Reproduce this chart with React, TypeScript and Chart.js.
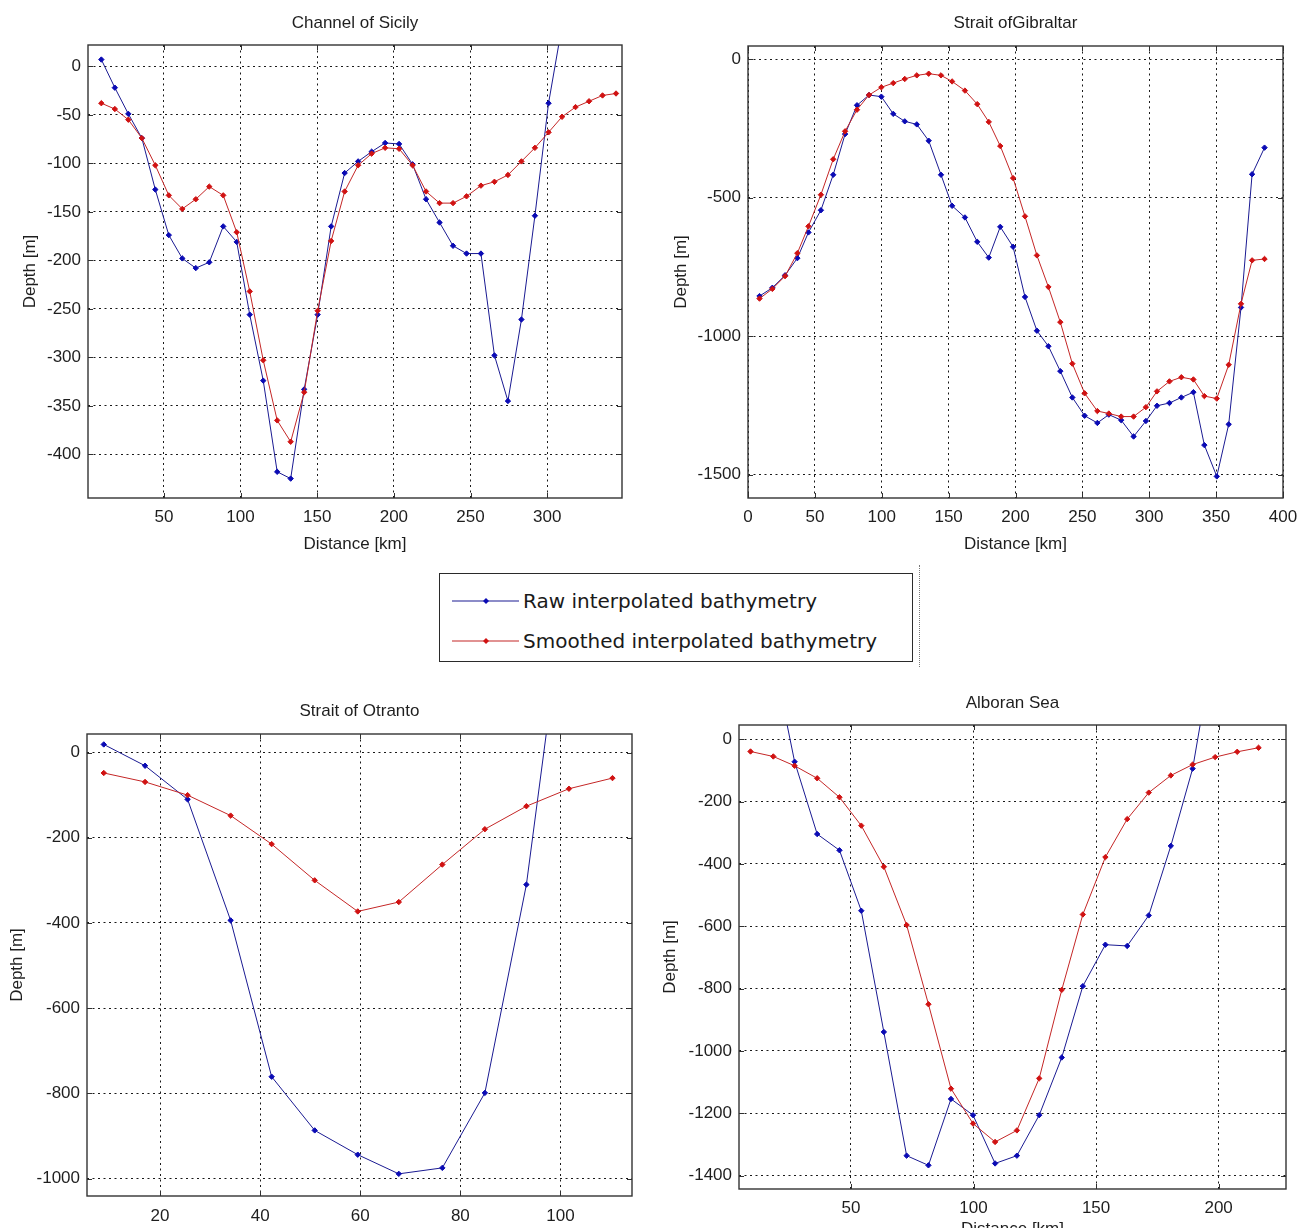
import React, { useEffect, useRef } from 'react';
import { Chart, registerables } from 'chart.js';

Chart.register(...registerables);

// ---------------- DATA ----------------
const seriesNames = ['Raw interpolated bathymetry', 'Smoothed interpolated bathymetry'];
const xAxisTitle = 'Distance [km]';
const yAxisTitle = 'Depth [m]';

// Channel of Sicily
const sicilyDistance = [9.2, 18.0, 26.8, 35.6, 44.4, 53.2, 62.0, 70.8, 79.6, 88.7, 97.5, 106.0, 114.8, 123.9, 132.7, 141.5, 150.3, 159.1, 167.9, 176.7, 185.5, 194.3, 203.4, 212.2, 221.0, 229.8, 238.6, 247.4, 256.8, 265.6, 274.4, 283.2, 292.0, 300.9, 309.7, 318.5, 327.3, 336.1, 344.9];
const sicilyRaw = [7, -22, -49, -74, -127, -174, -198, -208, -202, -165, -181, -256, -324, -418, -425, -333, -256, -165, -110, -98, -88, -79, -80, -101, -137, -161, -185, -193, -193, -298, -345, -261, -154, -38, 42];
const sicilySmoothed = [-38, -44, -55, -74, -102, -133, -147, -137, -124, -133, -171, -232, -303, -365, -387, -336, -252, -180, -129, -102, -90, -84, -85, -102, -129, -141, -141, -134, -123, -119, -112, -98, -84, -68, -52, -42, -36, -30, -28];
const sicilyXTicks = [50, 100, 150, 200, 250, 300];
const sicilyYTicks = [0, -50, -100, -150, -200, -250, -300, -350, -400];

// Strait of Gibraltar
const gibraltarDistance = [8.6, 18.2, 27.7, 36.9, 45.2, 54.5, 63.7, 72.6, 81.5, 90.5, 99.7, 108.6, 117.2, 126.2, 135.1, 144.3, 152.6, 162.2, 171.4, 180.0, 188.6, 198.2, 207.1, 216.0, 224.6, 233.5, 242.5, 251.7, 261.2, 269.8, 279.0, 288.3, 297.5, 305.8, 315.1, 324.0, 333.0, 341.2, 350.5, 359.4, 368.6, 376.9, 386.2];
const gibraltarRaw = [-855, -825, -780, -718, -625, -545, -417, -270, -166, -129, -135, -197, -224, -235, -294, -417, -529, -571, -659, -716, -605, -677, -858, -980, -1036, -1126, -1221, -1287, -1313, -1283, -1303, -1362, -1306, -1251, -1241, -1221, -1202, -1393, -1506, -1318, -896, -415, -319];
const gibraltarSmoothed = [-864, -829, -783, -700, -603, -489, -361, -260, -182, -129, -101, -86, -71, -58, -52, -58, -80, -113, -162, -226, -313, -429, -567, -708, -822, -949, -1099, -1206, -1270, -1279, -1290, -1290, -1256, -1199, -1163, -1148, -1156, -1216, -1225, -1103, -883, -726, -721];
const gibraltarXTicks = [0, 50, 100, 150, 200, 250, 300, 350, 400];
const gibraltarYTicks = [0, -500, -1000, -1500];

// Strait of Otranto
const otrantoDistance = [8.75, 17.0, 25.5, 34.1, 42.3, 50.9, 59.5, 67.7, 76.4, 84.9, 93.2, 101.7, 110.4];
const otrantoRaw = [19, -31, -110, -394, -761, -887, -944, -989, -975, -799, -310, 448];
const otrantoSmoothed = [-48, -69, -100, -148, -215, -300, -373, -351, -263, -180, -126, -85, -60];
const otrantoXTicks = [20, 40, 60, 80, 100];
const otrantoYTicks = [0, -200, -400, -600, -800, -1000];

// Alboran Sea
const alboranDistance = [9.0, 18.3, 27.0, 36.2, 45.3, 54.2, 63.4, 72.7, 81.6, 90.8, 99.8, 108.8, 117.7, 126.8, 136.0, 144.6, 153.8, 162.7, 171.5, 180.5, 189.4, 198.6, 207.6, 216.3];
const alboranRaw = [null, 264, -72, -304, -356, -550, -939, -1336, -1367, -1154, -1206, -1361, -1336, -1206, -1021, -792, -659, -663, -565, -342, -94, 327];
const alboranSmoothed = [-39, -55, -85, -125, -186, -277, -409, -596, -850, -1121, -1233, -1292, -1255, -1088, -804, -562, -378, -256, -171, -116, -81, -57, -40, -27];
const alboranXTicks = [50, 100, 150, 200];
const alboranYTicks = [0, -200, -400, -600, -800, -1000, -1200, -1400];

// ---------------- STYLE / LAYOUT ----------------
const TEXT_FONT = '"Liberation Sans", Arial, Helvetica, sans-serif';
const FONT_SIZE = 17;
const TEXT_COLOR = '#1e1e1e';
const RAW_LINE = '#1a1a92';
const RAW_MARK = '#0a0ab4';
const SMOOTH_LINE = '#c42626';
const SMOOTH_MARK = '#d01212';

type PanelCfg = {
  title: string;
  dist: number[];
  raw: (number | null)[];
  smooth: number[];
  xTicks: number[];
  yTicks: number[];
  xMin: number; xMax: number; yMin: number; yMax: number;
  left: number; top: number; w: number; h: number;
  area: { l: number; t: number; r: number; b: number };
  titleY: number; yTitleX: number; xTitleY: number; xTickPad: number;
};

const panels: PanelCfg[] = [
  {
    title: 'Channel of Sicily', dist: sicilyDistance, raw: sicilyRaw, smooth: sicilySmoothed,
    xTicks: sicilyXTicks, yTicks: sicilyYTicks, xMin: 0.5, xMax: 348.8, yMin: -445, yMax: 22,
    left: 0, top: 0, w: 653, h: 560, area: { l: 88, t: 45, r: 622, b: 498 },
    titleY: 23, yTitleX: 30, xTitleY: 544, xTickPad: 9,
  },
  {
    title: 'Strait ofGibraltar', dist: gibraltarDistance, raw: gibraltarRaw, smooth: gibraltarSmoothed,
    xTicks: gibraltarXTicks, yTicks: gibraltarYTicks, xMin: 0, xMax: 400, yMin: -1584, yMax: 48,
    left: 653, top: 0, w: 653, h: 560, area: { l: 748, t: 46, r: 1283, b: 498 },
    titleY: 23, yTitleX: 681, xTitleY: 544, xTickPad: 9,
  },
  {
    title: 'Strait of Otranto', dist: otrantoDistance, raw: otrantoRaw, smooth: otrantoSmoothed,
    xTicks: otrantoXTicks, yTicks: otrantoYTicks, xMin: 5.4, xMax: 114.3, yMin: -1041, yMax: 43.5,
    left: 0, top: 560, w: 653, h: 700, area: { l: 87, t: 734, r: 632, b: 1196 },
    titleY: 711, yTitleX: 17, xTitleY: 1242, xTickPad: 10,
  },
  {
    title: 'Alboran Sea', dist: alboranDistance, raw: alboranRaw, smooth: alboranSmoothed,
    xTicks: alboranXTicks, yTicks: alboranYTicks, xMin: 4.3, xMax: 227.5, yMin: -1443, yMax: 46,
    left: 653, top: 560, w: 653, h: 700, area: { l: 739, t: 725, r: 1286, b: 1189 },
    titleY: 703, yTitleX: 670, xTitleY: 1229, xTickPad: 9,
  },
];

const framePlugin = {
  id: 'matlabFrame',
  afterDatasetsDraw(chart: any) {
    const { ctx, chartArea: a, scales } = chart;
    ctx.save();
    ctx.strokeStyle = '#303030';
    ctx.lineWidth = 1;
    ctx.beginPath();
    const xs = scales.x;
    const ys = scales.y;
    for (const t of xs.ticks) {
      const p = Math.round(xs.getPixelForValue(t.value)) + 0.5;
      ctx.moveTo(p, a.bottom); ctx.lineTo(p, a.bottom - 5);
      ctx.moveTo(p, a.top); ctx.lineTo(p, a.top + 5);
    }
    for (const t of ys.ticks) {
      const p = Math.round(ys.getPixelForValue(t.value)) + 0.5;
      ctx.moveTo(a.left, p); ctx.lineTo(a.left + 5, p);
      ctx.moveTo(a.right, p); ctx.lineTo(a.right - 5, p);
    }
    ctx.stroke();
    ctx.lineWidth = 1.4;
    ctx.strokeStyle = '#333333';
    ctx.strokeRect(a.left, a.top, a.right - a.left, a.bottom - a.top);
    ctx.restore();
  },
};

function PanelChart({ cfg }: { cfg: PanelCfg }) {
  const ref = useRef<HTMLCanvasElement>(null);
  useEffect(() => {
    const canvas = ref.current;
    if (!canvas) return;
    const LH = FONT_SIZE * 1.2;
    const font = { family: TEXT_FONT, size: FONT_SIZE };
    const yWidth = cfg.area.l - cfg.left;
    const topHeight = cfg.area.t - cfg.top;
    const xHeight = cfg.top + cfg.h - cfg.area.b;
    const padRight = cfg.left + cfg.w - cfg.area.r;
    const gridCfg = { color: 'rgba(0,0,0,0.9)', lineWidth: 1, drawTicks: false };

    const smoothData = cfg.smooth.map((v, i) => ({ x: cfg.dist[i], y: v }));
    const rawData = cfg.raw
      .map((v, i) => ({ x: cfg.dist[i], y: v }))
      .filter((p) => p.y !== null && p.y !== undefined);

    const chart = new Chart(canvas, {
      type: 'line',
      data: {
        datasets: [
          {
            label: seriesNames[1],
            data: smoothData as any,
            borderColor: SMOOTH_LINE,
            borderWidth: 1,
            pointStyle: 'rectRot',
            pointRadius: 2.7,
            pointBorderWidth: 1,
            pointBackgroundColor: SMOOTH_MARK,
            pointBorderColor: SMOOTH_MARK,
            tension: 0,
            order: 0,
          },
          {
            label: seriesNames[0],
            data: rawData as any,
            borderColor: RAW_LINE,
            borderWidth: 1,
            pointStyle: 'rectRot',
            pointRadius: 2.7,
            pointBorderWidth: 1,
            pointBackgroundColor: RAW_MARK,
            pointBorderColor: RAW_MARK,
            tension: 0,
            order: 1,
          },
        ],
      },
      options: {
        animation: false,
        responsive: false,
        maintainAspectRatio: false,
        devicePixelRatio: 1,
        events: [],
        layout: { padding: { left: 0, top: 0, right: padRight, bottom: 0 } },
        plugins: {
          legend: { display: false },
          tooltip: { enabled: false },
          title: { display: false },
        },
        scales: {
          x: {
            type: 'linear',
            position: 'bottom',
            min: cfg.xMin,
            max: cfg.xMax,
            afterBuildTicks: (s: any) => { s.ticks = cfg.xTicks.map((v) => ({ value: v })); },
            afterFit: (s: any) => { s.height = xHeight; s.paddingLeft = 0; s.paddingRight = 0; },
            grid: gridCfg,
            border: { display: false, dash: [2, 3.5] },
            ticks: {
              font, color: TEXT_COLOR, padding: cfg.xTickPad, maxRotation: 0, autoSkip: false,
              callback: (v: any) => String(v),
            },
            title: {
              display: true, text: xAxisTitle, font, color: TEXT_COLOR,
              padding: { top: 0, bottom: cfg.top + cfg.h - cfg.xTitleY - LH / 2 },
            },
          },
          y: {
            type: 'linear',
            position: 'left',
            min: cfg.yMin,
            max: cfg.yMax,
            afterBuildTicks: (s: any) => { s.ticks = cfg.yTicks.map((v) => ({ value: v })); },
            afterFit: (s: any) => { s.width = yWidth; s.paddingTop = 0; s.paddingBottom = 0; },
            grid: gridCfg,
            border: { display: false, dash: [2, 3.5] },
            ticks: {
              font, color: TEXT_COLOR, padding: 7, autoSkip: false,
              callback: (v: any) => String(v),
            },
            title: {
              display: true, text: yAxisTitle, font, color: TEXT_COLOR,
              padding: { top: cfg.yTitleX - cfg.left - LH / 2, bottom: 0 },
            },
          },
          t: {
            type: 'linear',
            axis: 'x',
            position: 'top',
            min: cfg.xMin,
            max: cfg.xMax,
            afterFit: (s: any) => { s.height = topHeight; s.paddingLeft = 0; s.paddingRight = 0; },
            grid: { display: false, drawTicks: false },
            border: { display: false },
            ticks: { display: false },
            title: {
              display: true, text: cfg.title, font, color: TEXT_COLOR,
              padding: { top: cfg.titleY - cfg.top - LH / 2, bottom: 0 },
            },
          },
        } as any,
      },
      plugins: [framePlugin],
    });
    return () => chart.destroy();
  }, [cfg]);
  return (
    <canvas
      ref={ref}
      width={cfg.w}
      height={cfg.h}
      style={{ position: 'absolute', left: cfg.left, top: cfg.top, width: cfg.w, height: cfg.h }}
    />
  );
}

function Legend() {
  const rows = [
    { name: seriesNames[0], line: RAW_LINE, mark: RAW_MARK, cy: 27 },
    { name: seriesNames[1], line: SMOOTH_LINE, mark: SMOOTH_MARK, cy: 67 },
  ];
  return (
    <>
      <div
        style={{
          position: 'absolute', left: 919, top: 565, width: 0, height: 102,
          borderLeft: '1px dotted #777',
        }}
      />
      <div
        style={{
          position: 'absolute', left: 439, top: 573, width: 474, height: 89,
          boxSizing: 'border-box', border: '1.5px solid #2a2a2a', background: '#fff',
        }}
      >
        <svg width={90} height={89} style={{ position: 'absolute', left: 0, top: 0 }}>
          {rows.map((r) => (
            <g key={r.name}>
              <line x1={12} y1={r.cy} x2={79} y2={r.cy} stroke={r.line} strokeWidth={1.2} />
              <polygon
                points={`46,${r.cy - 3} 49,${r.cy} 46,${r.cy + 3} 43,${r.cy}`}
                fill={r.mark}
              />
            </g>
          ))}
        </svg>
        {rows.map((r) => (
          <div
            key={r.name + 't'}
            style={{
              position: 'absolute', left: 83, top: r.cy - 13, height: 26, lineHeight: '26px',
              fontFamily: '"DejaVu Sans", Verdana, sans-serif', fontSize: 20, color: '#1a1a1a',
              whiteSpace: 'nowrap',
            }}
          >
            {r.name}
          </div>
        ))}
      </div>
    </>
  );
}

export default function App() {
  return (
    <div
      style={{
        position: 'absolute', left: 0, top: 0, width: 1306, height: 1228,
        overflow: 'hidden', background: '#ffffff',
      }}
    >
      {panels.map((p) => (
        <PanelChart key={p.title} cfg={p} />
      ))}
      <Legend />
    </div>
  );
}
